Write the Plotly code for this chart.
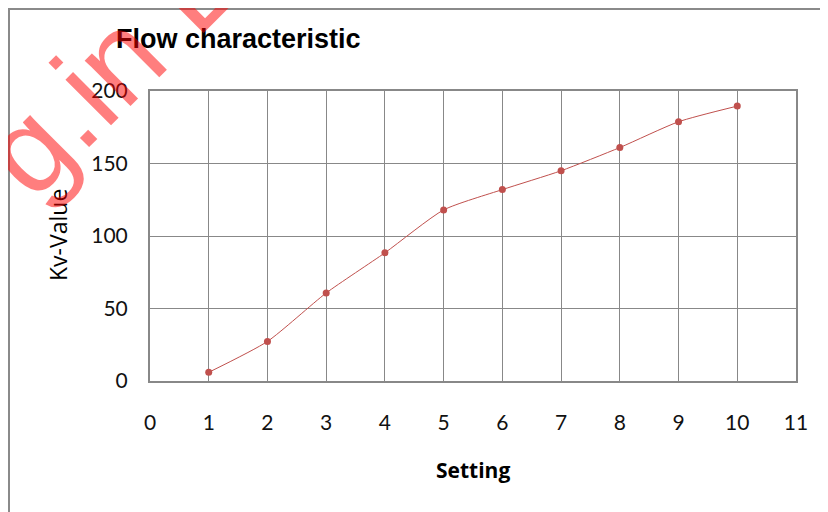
import plotly.graph_objects as go

settings = [1, 2, 3, 4, 5, 6, 7, 8, 9, 10]
kv_values = [6.0, 27.3, 60.7, 88.4, 118.0, 132.0, 145.0, 161.0, 178.8, 189.6]
x_ticks = [0, 1, 2, 3, 4, 5, 6, 7, 8, 9, 10, 11]
y_ticks = [0, 50, 100, 150, 200]

title_text = "Flow characteristic"
x_title = "Setting"
y_title = "Kv-Value"
watermark = "g.in L"

line_color = "#C0504D"
grid_color = "#888888"
tick_font = dict(family="Lato, Open Sans, sans-serif", size=21, color="#111111")

# page body has an 8px margin: figure coordinates are page coordinates minus 8
W, H = 820, 504
L, R, T, B = 142, 32, 83, 131
PW, PH = W - L - R, H - T - B


def px(fx):
    return (fx - 8 - L) / PW


def py(fy):
    return (H - B - (fy - 8)) / PH


fig = go.Figure()
fig.add_trace(go.Scatter(
    x=settings, y=kv_values, mode="lines+markers",
    line=dict(color=line_color, width=1, shape="spline", smoothing=0.6),
    marker=dict(color=line_color, size=7, symbol="circle"),
    showlegend=False,
))

fig.update_layout(
    width=W, height=H,
    paper_bgcolor="white", plot_bgcolor="white",
    margin=dict(l=L, r=R, t=T, b=B),
    xaxis=dict(range=[0, 11], tickvals=x_ticks, showgrid=True, gridcolor=grid_color,
               gridwidth=1.3, showline=True, linecolor=grid_color, linewidth=2, mirror=True,
               zeroline=False, ticks="", tickfont=tick_font, ticklabelstandoff=22),
    yaxis=dict(range=[0, 200], tickvals=y_ticks, showgrid=True, gridcolor=grid_color,
               gridwidth=1.3, showline=True, linecolor=grid_color, linewidth=2, mirror=True,
               zeroline=False, ticks="", tickfont=tick_font, ticklabelstandoff=16),
)

# outer chart frame
fig.add_shape(type="rect", xref="paper", yref="paper",
              x0=px(9), x1=1.3, y0=-0.8, y1=py(9),
              line=dict(color="#8a8a8a", width=2), fillcolor="rgba(0,0,0,0)", layer="below")

fig.add_annotation(text="<b>" + title_text + "</b>", xref="paper", yref="paper",
                   x=px(114), y=py(39), xanchor="left", yanchor="middle",
                   showarrow=False, font=dict(family="Liberation Sans, Arial", size=27, color="black"))
fig.add_annotation(text="<b>" + x_title + "</b>", xref="paper", yref="paper",
                   x=px(473), y=py(470), xanchor="center", yanchor="middle",
                   showarrow=False, font=dict(family="Open Sans, sans-serif", size=21, color="black"))
fig.add_annotation(text=y_title, xref="paper", yref="paper", textangle=-90,
                   x=px(58), y=py(235), xanchor="center", yanchor="middle",
                   showarrow=False, font=dict(family="Open Sans, sans-serif", size=23, color="black"))
fig.add_annotation(text=watermark, xref="paper", yref="paper", textangle=-45,
                   x=px(109), y=py(68), xanchor="center", yanchor="middle",
                   showarrow=False, opacity=0.5,
                   font=dict(family="Liberation Sans, Arial", size=122, color="red"))

fig.write_html("out.html")
